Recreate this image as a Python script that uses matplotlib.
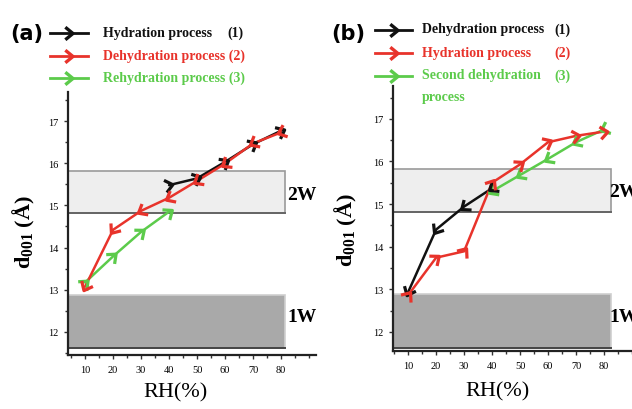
import matplotlib
matplotlib.use("Agg")
import numpy as np
import matplotlib.pyplot as plt
from matplotlib.path import Path
from matplotlib.patches import Rectangle
from matplotlib.markers import MarkerStyle
from matplotlib.transforms import Affine2D
from matplotlib.ticker import MultipleLocator

plt.rcParams['mathtext.fontset'] = 'custom'
plt.rcParams['mathtext.rm'] = 'Liberation Serif'
plt.rcParams['mathtext.bf'] = 'Liberation Serif:bold'

# ---- data ----
rh = [10, 20, 30, 40, 50, 60, 70, 80]

# panel (a), points listed in the order they were measured
a_hyd_x = [40, 50, 60, 70, 80]
a_hyd_y = [15.48, 15.64, 16.03, 16.45, 16.77]
a_dehyd_x = [80, 70, 60, 50, 40, 30, 20, 10]
a_dehyd_y = [16.73, 16.47, 15.99, 15.58, 15.18, 14.87, 14.42, 13.07]
a_rehyd_x = [10, 20, 30, 40]
a_rehyd_y = [13.17, 13.79, 14.37, 14.85]

# panel (b)
b_dehyd_x = [40, 30, 20, 10]
b_dehyd_y = [15.37, 14.94, 14.4, 12.93]
b_hyd_x = [10, 20, 30, 40, 50, 60, 70, 80]
b_hyd_y = [12.86, 13.74, 13.89, 15.5, 15.93, 16.45, 16.6, 16.7]
b_dehyd2_x = [80, 70, 60, 50, 40]
b_dehyd2_y = [16.75, 16.45, 16.06, 15.68, 15.3]

# hydration state bands (lo, hi)
band_2w = (14.82, 15.82)
band_1w = (11.62, 12.88)

BLACK = '#111111'
RED = '#e8332b'
GREEN = '#5ccb4b'

chev = Path([(-0.6, 0.9), (0.5, 0.0), (-0.6, -0.9)],
            [Path.MOVETO, Path.LINETO, Path.LINETO])

SERIF = 'Liberation Serif'

fig = plt.figure(figsize=(6.32, 4.10), dpi=100)
W, H = 632, 410


def make_axes(left, right, top, bottom, xlim, ylim, band_right):
    ax = fig.add_axes([left / W, 1 - bottom / H, (right - left) / W, (bottom - top) / H])
    ax.set_xlim(*xlim)
    ax.set_ylim(*ylim)
    for s in ['top', 'right']:
        ax.spines[s].set_visible(False)
    for s in ['left', 'bottom']:
        ax.spines[s].set_linewidth(1.6)
        ax.spines[s].set_color('#222222')
    ax.set_xticks(rh)
    ax.set_yticks([12, 13, 14, 15, 16, 17])
    ax.xaxis.set_minor_locator(MultipleLocator(5))
    ax.yaxis.set_minor_locator(MultipleLocator(0.5))
    ax.tick_params(which='both', direction='out', width=1, color='#333333')
    ax.tick_params(which='major', length=3, labelsize=7.5, pad=4)
    ax.tick_params(which='minor', length=2)
    for lab in ax.get_xticklabels() + ax.get_yticklabels():
        lab.set_fontfamily(SERIF)
    x0 = xlim[0]
    ax.add_patch(Rectangle((x0, band_2w[0]), band_right - x0, band_2w[1] - band_2w[0],
                           facecolor='#eeeeee', edgecolor='#9a9a9a', lw=1.2, zorder=0))
    ax.plot([x0, band_right], [band_2w[0], band_2w[0]], color='#666666', lw=1.4, zorder=0.5)
    ax.add_patch(Rectangle((x0, band_1w[0]), band_right - x0, band_1w[1] - band_1w[0],
                           facecolor='#a9a9a9', edgecolor='#cfcfcf', lw=1.2, zorder=0))
    ax.plot([x0, band_right], [band_1w[0], band_1w[0]], color='#444444', lw=1.4, zorder=0.5)
    return ax


def series(ax, x, y, color):
    ax.plot(x, y, color=color, lw=1.8, solid_capstyle='round', clip_on=False, zorder=3)
    pts = ax.transData.transform(np.column_stack([x, y]))
    n = len(pts)
    for i in range(n):
        p0 = pts[max(i - 1, 0)]
        p1 = pts[min(i + 1, n - 1)]
        ang = np.degrees(np.arctan2(p1[1] - p0[1], p1[0] - p0[0]))
        m = MarkerStyle(chev, transform=Affine2D().rotate_deg(ang))
        ax.plot([x[i]], [y[i]], ls='none', marker=m, markersize=9,
                markerfacecolor='none', markeredgecolor=color, markeredgewidth=2.3,
                clip_on=False, zorder=4)


axa = make_axes(68, 316, 93, 356, (3.9, 92.5), (11.45, 17.69), 81.5)
series(axa, a_rehyd_x, a_rehyd_y, GREEN)
series(axa, a_hyd_x, a_hyd_y, BLACK)
series(axa, a_dehyd_x, a_dehyd_y, RED)

axb = make_axes(393, 632, 87, 352, (4.6, 90.0), (11.55, 17.77), 82.5)
series(axb, b_dehyd2_x, b_dehyd2_y, GREEN)
series(axb, b_dehyd_x, b_dehyd_y, BLACK)
series(axb, b_hyd_x, b_hyd_y, RED)

# overlay in pixel coordinates for labels and legends
ov = fig.add_axes([0, 0, 1, 1], zorder=10)
ov.set_xlim(0, W)
ov.set_ylim(H, 0)
ov.axis('off')
ov.patch.set_alpha(0)


def legend_row(x0, x1, y, color):
    ov.plot([x0, x1], [y, y], color=color, lw=2)
    ov.plot([(x0 + x1) / 2], [y], marker=chev, markersize=9, markerfacecolor='none',
            markeredgecolor=color, markeredgewidth=2.4, ls='none')


tkw = dict(family=SERIF, weight='bold', fontsize=10, va='center', ha='left')

ov.text(10, 34, '(a)', fontsize=15, weight='bold', va='center', ha='left')
legend_row(50, 88, 34, BLACK)
legend_row(50, 88, 57, RED)
legend_row(50, 88, 79, GREEN)
ov.text(103, 33, 'Hydration process', color=BLACK, **tkw)
ov.text(227, 33, '(1)', color=BLACK, **tkw)
ov.text(103, 56, 'Dehydration process (2)', color=RED, **tkw)
ov.text(103, 78, 'Rehydration process (3)', color=GREEN, **tkw)

ov.text(331, 34, '(b)', fontsize=15, weight='bold', va='center', ha='left')
legend_row(375, 412, 31, BLACK)
legend_row(375, 412, 54, RED)
legend_row(375, 412, 77, GREEN)
ov.text(422, 30, 'Dehydration process', color=BLACK, **tkw)
ov.text(554, 30, '(1)', color=BLACK, **tkw)
ov.text(422, 53, 'Hydration process', color=RED, **tkw)
ov.text(554, 53, '(2)', color=RED, **tkw)
ov.text(422, 76, 'Second dehydration', color=GREEN, **tkw)
ov.text(554, 76, '(3)', color=GREEN, **tkw)
ov.text(422, 97, 'process', color=GREEN, **tkw)

# band labels
wkw = dict(family=SERIF, weight='bold', fontsize=14, va='center', ha='left')
ov.text(287, 196, '2W', **wkw)
ov.text(287, 318, '1W', **wkw)
ov.text(609, 193, '2W', **wkw)
ov.text(609, 318, '1W', **wkw)

# axis titles
ylab = r'$\mathbf{d_{001}}$ (Å)'
ov.text(24, 232, ylab, family=SERIF, weight='bold', fontsize=16, rotation=90,
        va='center', ha='center')
ov.text(346, 230, ylab, family=SERIF, weight='bold', fontsize=16, rotation=90,
        va='center', ha='center')
ov.text(176, 393, 'RH(%)', family=SERIF, fontsize=16, va='center', ha='center')
ov.text(497, 392, 'RH(%)', family=SERIF, fontsize=16, va='center', ha='center')

fig.savefig('out.png', dpi=100)
